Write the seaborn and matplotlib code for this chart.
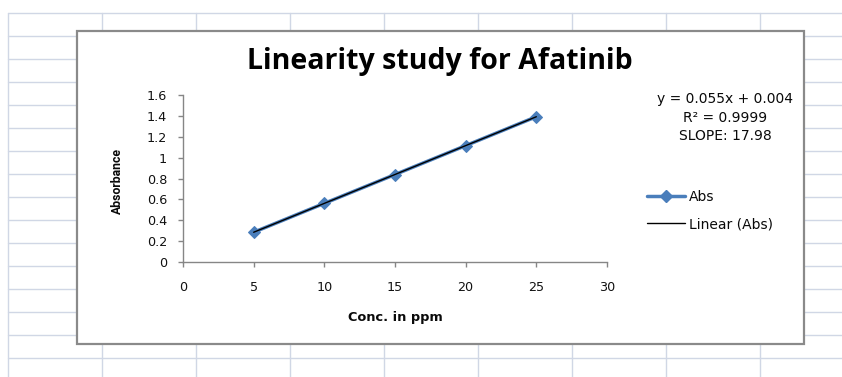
import matplotlib
matplotlib.use("Agg")
import matplotlib.pyplot as plt
import seaborn as sns
import numpy as np
from matplotlib.patches import Rectangle
from matplotlib.lines import Line2D

# data
conc = [5, 10, 15, 20, 25]
absorbance = [0.285, 0.562, 0.838, 1.115, 1.392]
x_ticks = [0, 5, 10, 15, 20, 25, 30]
y_ticks = [0, 0.2, 0.4, 0.6, 0.8, 1, 1.2, 1.4, 1.6]
y_tick_labels = ["0", "0.2", "0.4", "0.6", "0.8", "1", "1.2", "1.4", "1.6"]
eq_lines = ["y = 0.055x + 0.004", "R\u00b2 = 0.9999", "SLOPE: 17.98"]
legend_labels = ["Abs", "Linear (Abs)"]

sns.set_style("white")
plt.rcParams['font.family'] = ['DejaVu Sans']
plt.rcParams['text.color'] = '#0a0a0a'

W, H = 842, 377
fig = plt.figure(figsize=(W / 100, H / 100), dpi=100)
fig.patch.set_facecolor("white")

def fx(px):
    return px / W

def fy(py):
    return 1 - py / H

# spreadsheet cells behind the chart
bg = fig.add_axes([0, 0, 1, 1])
bg.set_xlim(0, W)
bg.set_ylim(H, 0)
bg.axis("off")
grid_col = "#d0d7e5"
for cx in np.arange(8, W + 1, 94):
    bg.plot([cx, cx], [13, H], color=grid_col, lw=1, zorder=1)
for ry in np.arange(13, H + 1, 23):
    bg.plot([8, W], [ry, ry], color=grid_col, lw=1, zorder=1)
bg.add_patch(Rectangle((77, 31), 727, 313, facecolor="white",
                       edgecolor="#8a8a8a", lw=1.6, zorder=2))

# plot area
ax = fig.add_axes([fx(183), fy(262), fx(607 - 183), (262 - 95) / H])
ax.patch.set_alpha(0)
blue = "#4a7ebb"
sns.lineplot(x=conc, y=absorbance, ax=ax, color=blue, lw=2.5, marker="D",
             markersize=6, markeredgecolor=blue)
sns.regplot(x=conc, y=absorbance, ax=ax, scatter=False, ci=None,
            color="black", line_kws={"lw": 1})
ax.set_xlim(0, 30)
ax.set_ylim(0, 1.6)
ax.set_xticks(x_ticks)
ax.set_yticks(y_ticks)
ax.set_yticklabels(y_tick_labels)
for s in ["top", "right"]:
    ax.spines[s].set_visible(False)
for s in ["left", "bottom"]:
    ax.spines[s].set_color("#868686")
    ax.spines[s].set_linewidth(1)
ax.tick_params(axis="both", direction="out", length=3.5, width=1,
               color="#868686", labelsize=9.2, labelcolor="#111111")
ax.tick_params(axis="x", pad=10.5, bottom=True)
ax.tick_params(axis="y", pad=8, left=True)
ax.set_xlabel("")
ax.set_ylabel("")

fig.text(fx(440), fy(61), "Linearity study for Afatinib", ha="center",
         va="center", fontsize=20.5, fontweight="bold", family="Open Sans",
         color="black")
fig.text(fx(395), fy(318), "Conc. in ppm", ha="center", va="center",
         fontsize=9.3, fontweight="bold")
fig.text(fx(117), fy(181), "Absorbance", ha="center", va="center",
         rotation=90, fontsize=8.8, fontweight="bold",
         family=["Roboto", "DejaVu Sans"])

for line, py in zip(eq_lines, [99, 117.5, 136]):
    fig.text(fx(725), fy(py), line, ha="center", va="center", fontsize=10)

handles = [Line2D([], [], color=blue, lw=2.5, marker="D", markersize=6),
           Line2D([], [], color="black", lw=1)]
fig.legend(handles, legend_labels, loc="upper left",
           bbox_to_anchor=(fx(647), fy(190)), frameon=False, fontsize=10,
           handlelength=2.75, labelspacing=0.95, borderaxespad=0,
           borderpad=0, handletextpad=0.3)

fig.savefig("out.png", dpi=100)
